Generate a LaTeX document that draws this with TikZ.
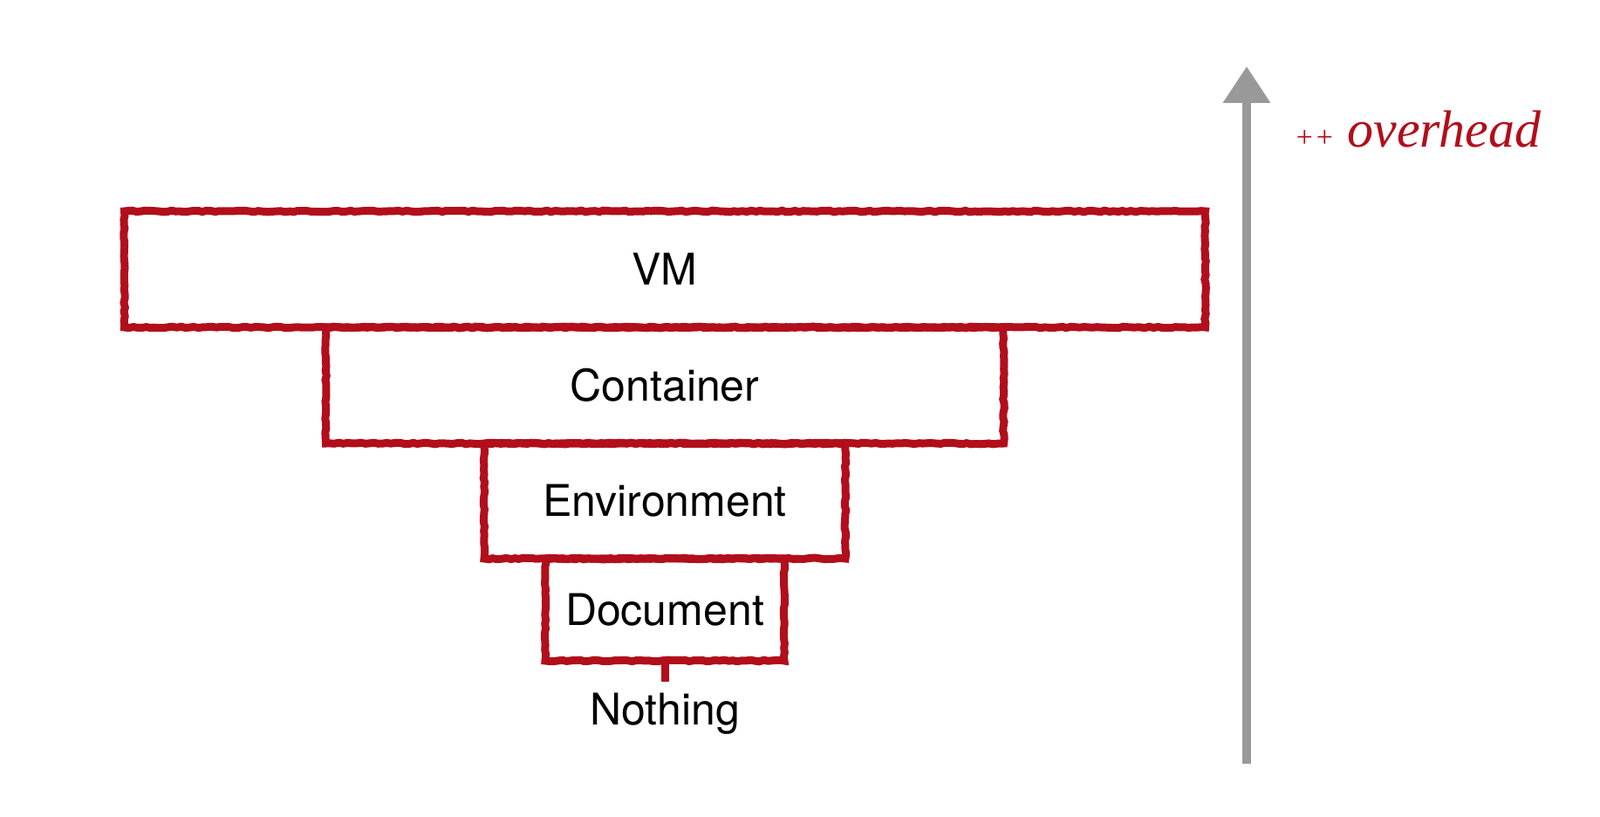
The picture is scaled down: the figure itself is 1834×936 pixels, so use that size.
\documentclass[tikz,border=0pt]{standalone}
\usepackage{fontspec}
\setmainfont{TeX Gyre Heros}
\newfontfamily\handfont{Liberation Serif}
\usepackage{xcolor}
\usetikzlibrary{arrows.meta,decorations.pathmorphing}
\definecolor{chalkred}{HTML}{B20E1B}
\definecolor{chalkgrey}{HTML}{999999}
\tikzset{
  layer/.style={draw=chalkred, line width=9pt, rectangle, inner sep=0pt,
    decorate, decoration={random steps, segment length=5pt, amplitude=0.8pt},
    font=\fontsize{50}{60}\selectfont},
  label/.style={font=\fontsize{50}{60}\selectfont}
}

\begin{document}
\begin{tikzpicture}[x=1pt,y=-1pt]
			\useasboundingbox (0,0) rectangle (1834,936);
			% layers
			\node [layer, minimum width=1239pt, minimum height=133pt] (vm) at (762,308.5) {VM};
			\node [layer, minimum width=777pt, minimum height=133pt] (container) at (762,441.5) {Container};
			\node [layer, minimum width=414pt, minimum height=132pt] (environment) at (762,574) {Environment};
			\node [layer, minimum width=274pt, minimum height=117pt] (document) at (762,698.5) {Document};
			% bottom
			\node [label] (nothing) at (762,818) {Nothing};
			\coordinate (stub) at (762,781);
			\draw [chalkred, line width=9pt] ([yshift=4pt]document.south) -- (stub);
			% overhead arrow
			\coordinate (tail) at (1429,875);
			\coordinate (tip) at (1429,76);
			\draw [chalkgrey, line width=10pt, -{Triangle[width=52pt,length=42pt]}] (tail) -- (tip);
			\node [chalkred, font=\fontsize{60}{64}\selectfont\handfont\itshape, anchor=west] (overhead) at (1480,148) {{\fontsize{34}{34}\selectfont ++} overhead};
			\end{tikzpicture}
\end{document}
